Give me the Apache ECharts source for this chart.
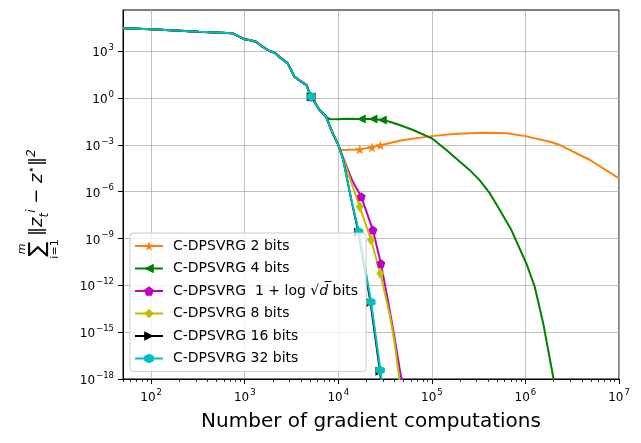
<!DOCTYPE html>
<html>
<head>
<meta charset="utf-8">
<title>C-DPSVRG</title>
<style>
  html, body { margin: 0; padding: 0; background: #fff; }
  #chart { width: 641px; height: 443px; }
</style>
<script src="https://cdn.jsdelivr.net/npm/echarts@6.0.0/dist/echarts.min.js"></script>
</head>
<body>
<div id="chart"></div>
<script>
// values read off the reference (real units, axes are log10)
// shared part of every run
var trunkX = [50, 100, 324, 741, 871, 1000, 1122, 1318, 1549, 1820, 2089, 2455, 2884, 3388, 3802, 4571, 5129, 6310, 7413];
var trunkY = [29500, 25100, 17800, 14100, 8510, 5750, 5250, 4070, 1950, 1070, 794, 347, 166, 23.4, 14.1, 6.76, 1.20, 0.170, 0.0631];
// shared by all runs except 4 bits
var stemX = [8710, 10000];
var stemY = [0.0055, 0.001];

var bits2X = [10470, 12590, 16980, 22910, 28180, 45190, 63100, 100000, 168300, 352400, 631000, 1000000, 1820000, 2344000, 3236000, 4898000, 10000000];
var bits2Y = [4.68e-4, 4.79e-4, 5.13e-4, 6.92e-4, 9.33e-4, 1.82e-3, 2.51e-3, 3.63e-3, 4.90e-3, 6.03e-3, 5.50e-3, 3.63e-3, 1.58e-3, 9.77e-4, 3.63e-4, 1.07e-4, 7.08e-6];
var bits2Mark = [5129, 16980, 22910, 28180];

var bits4X = [8128, 10000, 12590, 17580, 23440, 29510, 35480, 45190, 63100, 100000, 142900, 199500, 254100, 323600, 416900, 532100, 707900, 1023000, 1259000, 1549000, 1995000, 2138000];
var bits4Y = [0.0447, 0.0437, 0.0468, 0.0447, 0.0447, 0.0389, 0.0302, 0.0186, 8.91e-3, 2.63e-3, 4.68e-4, 8.32e-5, 2.40e-5, 5.50e-6, 7.76e-7, 6.61e-8, 3.47e-9, 2.51e-11, 7.94e-13, 3.63e-15, 1.07e-18, 6.3e-20];
var bits4Mark = [5129, 17580, 23440, 29510];

var bitsLogX = [11220, 14130, 17580, 23440, 28510, 33880, 39810, 46770, 50120, 316200, 3981000, 10000000];
var bitsLogY = [1.58e-4, 5.01e-6, 4.79e-7, 3.47e-9, 2.51e-11, 1.12e-13, 5.01e-16, 1.38e-18, 5.6e-19, 5.6e-19, 5.6e-19, 5.6e-19];
var bitsLogMark = [5129, 17580, 23440, 28510, 3981000];

var bits8X = [11220, 14130, 16980, 22390, 28180, 35480, 39810, 44670, 47860];
var bits8Y = [1.41e-4, 2.51e-6, 1.07e-7, 7.94e-10, 5.75e-12, 1.26e-14, 2.51e-16, 1.26e-18, 3.16e-20];
var bits8Mark = [5129, 16980, 22390, 28180];

var bits16X = [11220, 13800, 16410, 22130, 27860, 29170];
var bits16Y = [1.26e-4, 2.88e-7, 2.51e-9, 7.94e-14, 3.16e-18, 3.16e-19];
var bits16Mark = [5129, 16410, 22130, 27860];

var bits32X = [11220, 13800, 16600, 22390, 28180, 29510];
var bits32Y = [1.26e-4, 2.88e-7, 2.69e-9, 8.71e-14, 3.63e-18, 3.16e-19];
var bits32Mark = [5129, 16600, 22390, 28180];

var xTickExp = [2, 3, 4, 5, 6, 7];
var yTickExp = [-18, -15, -12, -9, -6, -3, 0, 3];
var xMin = 50, xMax = 1e7;
var yMinExp = -18, yMaxExp = 5.64;

var FONT = 'DejaVu Sans';

var STAR = 'path://M50,0 L61.8,35.3 L98.9,35.3 L68.9,57.1 L80.3,92.4 L50,70.6 L19.7,92.4 L31.1,57.1 L1.1,35.3 L38.2,35.3 Z';
var TRI_LEFT = 'path://M0,50 L90,0 L90,100 Z';
var TRI_RIGHT = 'path://M100,50 L10,0 L10,100 Z';
var PENTA = 'path://M50,0 L97.6,34.5 L79.4,90.5 L20.6,90.5 L2.4,34.5 Z';
var HEXA = 'path://M50,0 L93.3,25 L93.3,75 L50,100 L6.7,75 L6.7,25 Z';

// log minor ticks of x
var xMinor = [];
for (var n = 1; n <= 6; n++) {
    for (var k = 2; k <= 9; k++) {
        var v = Math.log10(k * Math.pow(10, n));
        if (v >= Math.log10(xMin) - 1e-9 && v <= 7) xMinor.push(v);
    }
}

function build(xs, ys, marks) {
    var out = [];
    for (var i = 0; i < xs.length; i++) {
        var item = { value: [Math.log10(xs[i]), Math.log10(ys[i])] };
        if (marks.indexOf(xs[i]) < 0) item.symbol = 'none';
        out.push(item);
    }
    return out;
}

function pow10(v) {
    var e = Math.round(v);
    return '{b|10}{s|' + (e < 0 ? '\u2212' + (-e) : e) + '}';
}

var powRich = {
    b: { fontSize: 12, fontFamily: FONT, color: '#000', verticalAlign: 'bottom' },
    s: { fontSize: 8.5, fontFamily: FONT, color: '#000', verticalAlign: 'bottom', padding: [0, 0, 7, 1] }
};

var sLog = 'C-DPSVRG  1 + log \u221Ad bits';

function line(name, color, symbol, size, xs, ys, marks, withStem) {
    var X = trunkX.concat(withStem ? stemX : [], xs);
    var Y = trunkY.concat(withStem ? stemY : [], ys);
    return {
        name: name,
        type: 'line',
        xAxisIndex: 0,
        data: build(X, Y, marks),
        symbol: symbol,
        symbolSize: size,
        showSymbol: true,
        color: color,
        lineStyle: { width: 2, color: color },
        itemStyle: { color: color },
        emphasis: { disabled: true }
    };
}

var chart = echarts.init(document.getElementById('chart'));
chart.setOption({
    animation: false,
    textStyle: { fontFamily: FONT },
    grid: {
        left: 123, right: 22, top: 10, bottom: 64,
        show: true, borderColor: '#000', borderWidth: 1, backgroundColor: 'transparent'
    },
    xAxis: [{
        type: 'value',
        min: Math.log10(xMin),
        max: Math.log10(xMax),
        name: 'Number of gradient computations',
        nameLocation: 'middle',
        nameGap: 33,
        nameTextStyle: { fontSize: 20, color: '#000', fontFamily: FONT },
        axisLine: { show: true, onZero: false, lineStyle: { color: '#000', width: 1 } },
        axisTick: { show: true, inside: false, length: 5, customValues: xTickExp, lineStyle: { color: '#000' } },
        axisLabel: { customValues: xTickExp, margin: 9, formatter: pow10, rich: powRich },
        splitLine: { show: true, lineStyle: { color: '#b0b0b0', width: 0.8 } }
    }, {
        type: 'value',
        position: 'bottom',
        min: Math.log10(xMin),
        max: Math.log10(xMax),
        axisLine: { show: false, onZero: false },
        axisTick: { show: true, inside: false, length: 3, customValues: xMinor, lineStyle: { color: '#000', width: 0.8 } },
        axisLabel: { show: false },
        splitLine: { show: false }
    }],
    yAxis: {
        type: 'value',
        min: yMinExp,
        max: yMaxExp,
        axisLine: { show: true, onZero: false, lineStyle: { color: '#000', width: 1 } },
        axisTick: { show: true, inside: false, length: 5, customValues: yTickExp, lineStyle: { color: '#000' } },
        axisLabel: { customValues: yTickExp, margin: 9, formatter: pow10, rich: powRich },
        splitLine: { show: true, lineStyle: { color: '#b0b0b0', width: 0.8 } }
    },
    legend: {
        orient: 'vertical',
        left: 130, top: 233,
        itemWidth: 28, itemHeight: 12, itemGap: 8.5,
        padding: [6, 8, 6, 4],
        backgroundColor: 'rgba(255,255,255,0.8)',
        borderColor: '#cccccc', borderWidth: 1, borderRadius: 3,
        textStyle: {
            fontSize: 14, color: '#000', fontFamily: FONT, padding: [0, 0, 0, 5],
            rich: { it: { fontSize: 14, fontStyle: 'italic', fontFamily: FONT, color: '#000' } }
        },
        formatter: function (name) {
            if (name === sLog) return 'C-DPSVRG  1 + log \u221A{it|d\u0305} bits';
            return name;
        },
        data: ['C-DPSVRG 2 bits', 'C-DPSVRG 4 bits', sLog, 'C-DPSVRG 8 bits', 'C-DPSVRG 16 bits', 'C-DPSVRG 32 bits']
    },
    graphic: [{
        type: 'group',
        x: 38, y: 197,
        rotation: Math.PI / 2,
        silent: true,
        children: [{
            type: 'text',
            style: { text: '\u2211', x: -52, y: 0, font: '22px DejaVu Sans', fill: '#000', textAlign: 'center', textVerticalAlign: 'middle' }
        }, {
            type: 'text',
            style: { text: 'm', x: -52, y: -16, font: 'italic 11px DejaVu Sans', fill: '#000', textAlign: 'center', textVerticalAlign: 'middle' }
        }, {
            type: 'text',
            style: { text: 'i=1', x: -52, y: 17, font: '11px DejaVu Sans', fill: '#000', textAlign: 'center', textVerticalAlign: 'middle' }
        }, {
            type: 'text',
            style: {
                text: '{n|\u2016}{it|z}{sub|t}{sup|i}{n| \u2212 }{it|z}{sup|\u22C6}{n|\u2016}{sup|2}',
                x: -39, y: 0, textAlign: 'left', textVerticalAlign: 'middle', fill: '#000',
                rich: {
                    n: { fontSize: 18, fontFamily: FONT, verticalAlign: 'bottom', padding: [0, 0, 4, 0] },
                    it: { fontSize: 18, fontFamily: FONT, fontStyle: 'italic', verticalAlign: 'bottom', padding: [0, 0, 4, 0] },
                    sub: { fontSize: 12, fontFamily: FONT, fontStyle: 'italic', verticalAlign: 'bottom', padding: [0, 0, 0, 0] },
                    sup: { fontSize: 12, fontFamily: FONT, fontStyle: 'italic', verticalAlign: 'bottom', padding: [0, 0, 13, 0] }
                }
            }
        }]
    }],
    series: [
        line('C-DPSVRG 2 bits', '#ff7f0e', STAR, 10, bits2X, bits2Y, bits2Mark, true),
        line('C-DPSVRG 4 bits', '#008000', TRI_LEFT, 9, bits4X, bits4Y, bits4Mark, false),
        line(sLog, '#bf00bf', PENTA, 9, bitsLogX, bitsLogY, bitsLogMark, true),
        line('C-DPSVRG 8 bits', '#bfbf00', 'diamond', [8, 11], bits8X, bits8Y, bits8Mark, true),
        line('C-DPSVRG 16 bits', '#000000', TRI_RIGHT, 9, bits16X, bits16Y, bits16Mark, true),
        line('C-DPSVRG 32 bits', '#00bfbf', HEXA, 9, bits32X, bits32Y, bits32Mark, true)
    ]
});
</script>
</body>
</html>
